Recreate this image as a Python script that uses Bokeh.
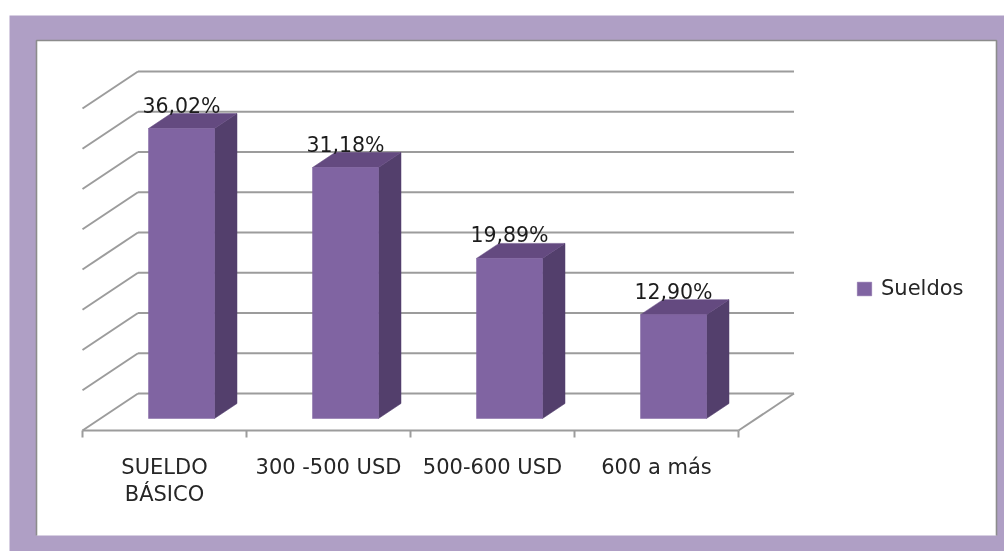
from bokeh.plotting import figure
from bokeh.models import Range1d, Legend, LegendItem, ColumnDataSource
from bokeh.core.properties import value
from bokeh.embed import file_html
from bokeh.resources import INLINE

categories = ["SUELDO\nBÁSICO", "300 -500 USD", "500-600 USD", "600 a más"]
series_name = "Sueldos"
sueldos = [36.02, 31.18, 19.89, 12.90]
value_levels = [0, 5, 10, 15, 20, 25, 30, 35, 40]

W, H = 1004, 551
PX_PER_CAT = 164.0
PX_PER_UNIT = 8.05
ORIGIN_X, ORIGIN_Y = 82.0, 430.0   # canvas position of the front-left floor corner
DEPTH_DX = 55.5 / PX_PER_CAT       # shift of the back wall, in category units
DEPTH_DY = 37.0 / PX_PER_UNIT      # shift of the back wall, in value units


def cx(px):
    return (px - ORIGIN_X) / PX_PER_CAT


def cy(py):
    return (ORIGIN_Y - py) / PX_PER_UNIT


def proj(cat, val, depth):
    return cat + depth * DEPTH_DX, val + depth * DEPTH_DY


p = figure(width=W, height=H, output_backend="svg", toolbar_location=None,
           x_range=Range1d(cx(0), cx(W)), y_range=Range1d(cy(H), cy(0)),
           min_border=0, min_border_left=0, min_border_right=0,
           min_border_top=0, min_border_bottom=0,
           styles={"position": "fixed", "left": "0px", "top": "0px"})
p.xaxis.visible = False
p.yaxis.visible = False
p.grid.visible = False
p.outline_line_color = None
p.background_fill_color = "white"
p.border_fill_color = "white"

# slide frame
p.quad(left=cx(9), right=cx(W), bottom=cy(H), top=cy(15),
       fill_color="#AF9FC5", line_color=None)
p.quad(left=cx(36), right=cx(996), bottom=cy(535), top=cy(40),
       fill_color="white", line_color=None)
p.multi_line(xs=[[cx(36), cx(36), cx(996), cx(996)]],
             ys=[[cy(535), cy(40), cy(40), cy(535)]],
             line_color="#8C8C8C", line_width=1.6)

GRID = "#9C9C9C"
n = len(categories)

# walls and floor
back_xs, back_ys, wall_xs, wall_ys = [], [], [], []
for v in value_levels:
    x0, y0 = proj(0, v, 0)
    x1, y1 = proj(0, v, 1)
    x2, y2 = proj(n, v, 1)
    wall_xs.append([x0, x1])
    wall_ys.append([y0, y1])
    back_xs.append([x1, x2])
    back_ys.append([y1, y2])
p.multi_line(xs=back_xs, ys=back_ys, line_color=GRID, line_width=2)
p.multi_line(xs=wall_xs, ys=wall_ys, line_color=GRID, line_width=2)

# front floor edge, right floor edge, ticks
p.multi_line(xs=[[0, n], [n, n + DEPTH_DX]], ys=[[0, 0], [0, DEPTH_DY]],
             line_color=GRID, line_width=2)
tick_len = 7.0 / PX_PER_UNIT
p.segment(x0=list(range(n + 1)), x1=list(range(n + 1)),
          y0=[0] * (n + 1), y1=[-tick_len] * (n + 1),
          line_color=GRID, line_width=2)

# bars (oblique 3-D)
BAR_W = 66.0 / PX_PER_CAT
BAR_SHIFT = -1.0 / PX_PER_CAT
Z0, Z1 = 12.0 / 37.0, 27.0 / 37.0
fl, fr, fb, ft = [], [], [], []
side_x, side_y, top_x, top_y = [], [], [], []
for i, v in enumerate(sueldos):
    c0 = i + 0.5 + BAR_SHIFT - BAR_W / 2
    c1 = i + 0.5 + BAR_SHIFT + BAR_W / 2
    a = proj(c0, 0, Z0)
    b = proj(c1, v, Z0)
    fl.append(a[0]); fr.append(b[0]); fb.append(a[1]); ft.append(b[1])
    p1 = proj(c1, 0, Z0); p2 = proj(c1, 0, Z1); p3 = proj(c1, v, Z1); p4 = proj(c1, v, Z0)
    side_x.append([p1[0], p2[0], p3[0], p4[0]])
    side_y.append([p1[1], p2[1], p3[1], p4[1]])
    t1 = proj(c0, v, Z0); t2 = proj(c0, v, Z1); t3 = proj(c1, v, Z1); t4 = proj(c1, v, Z0)
    top_x.append([t1[0], t2[0], t3[0], t4[0]])
    top_y.append([t1[1], t2[1], t3[1], t4[1]])

p.patches(side_x, side_y, fill_color="#533F6C", line_color="#533F6C", line_width=0.5)
p.patches(top_x, top_y, fill_color="#644A80", line_color="#644A80", line_width=0.5)
front = p.quad(left=fl, right=fr, bottom=fb, top=ft,
               fill_color="#8064A2", line_color="#8064A2", line_width=0.5)

# data labels
label_src = ColumnDataSource(dict(
    x=[(l + r) / 2 for l, r in zip(fl, fr)],
    y=[t + 23.0 / PX_PER_UNIT for t in ft],
    t=[f"{v:.2f}%".replace(".", ",") for v in sueldos],
))
p.text(x="x", y="y", text="t", source=label_src, text_align="center",
       text_baseline="alphabetic", text_font=value("DejaVu Sans"),
       text_font_size="20.5px", text_color="#1c1c1c")

# category labels, one row per line of the label
LINE_STEP = 27.0 / PX_PER_UNIT
cat_x, cat_y, cat_t = [], [], []
for i, name in enumerate(categories):
    for j, row in enumerate(name.split("\n")):
        cat_x.append(i + 0.5)
        cat_y.append(-36.0 / PX_PER_UNIT - j * LINE_STEP)
        cat_t.append(row)
p.text(x=cat_x, y=cat_y, text=cat_t, text_align="center",
       text_baseline="alphabetic", text_font=value("DejaVu Sans"),
       text_font_size="21px", text_color="#262626")

legend = Legend(items=[LegendItem(label=series_name, renderers=[front])],
                location=(855, 251), orientation="vertical",
                background_fill_alpha=0, border_line_color=None,
                glyph_width=18, glyph_height=17, label_standoff=8,
                padding=4, margin=0, label_text_font="DejaVu Sans",
                label_text_font_size="21px", label_text_color="#262626")
p.add_layout(legend, "center")

open("out.html", "w").write(file_html(p, INLINE))
